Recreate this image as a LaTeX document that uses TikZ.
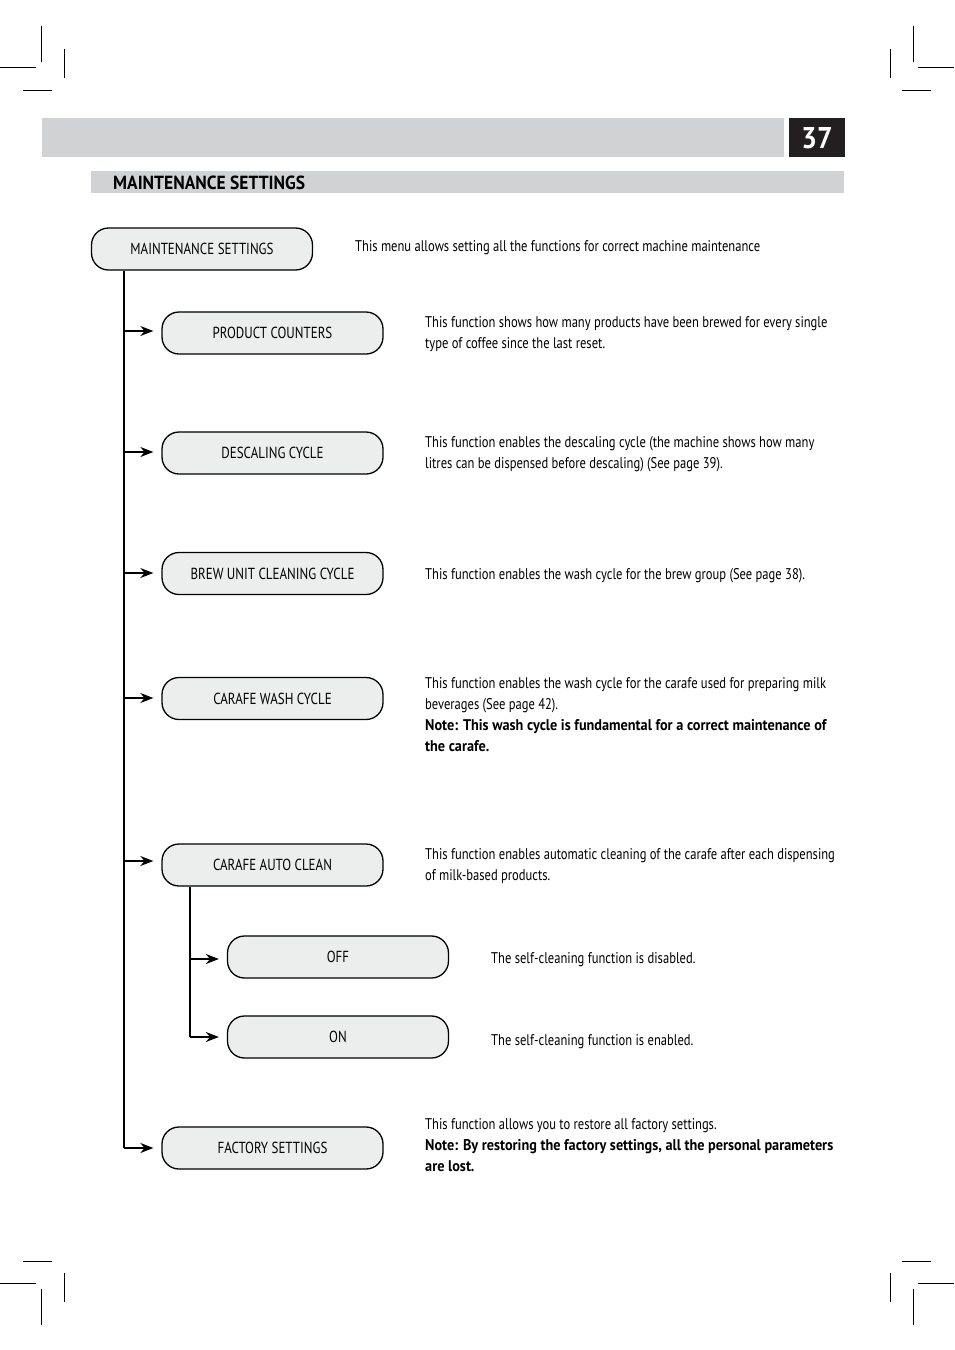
\documentclass[tikz,border=0pt]{standalone}
\usepackage{fontspec}
\setmainfont{PT Sans}[FakeStretch=0.81, BoldFeatures={FakeStretch=0.92}]
\usetikzlibrary{arrows.meta}
\definecolor{bargray}{HTML}{D1D2D4}
\definecolor{boxfill}{HTML}{ECEDED}
\definecolor{pagenum}{HTML}{231F20}
\tikzset{
  menubox/.style={draw=black, line width=1.3pt, fill=boxfill, rounded corners=17pt,
    minimum width=221pt, minimum height=42pt, inner sep=0pt,
    font=\fontsize{16}{18}\selectfont},
  desc/.style={anchor=north west, align=left, inner sep=0pt,
    font=\fontsize{15.5}{21}\selectfont},
  conn/.style={line width=1.6pt},
  arr/.style={line width=1.6pt, -{Stealth[length=13pt,width=10pt]}, shorten >=8pt},
  crop/.style={line width=0.8pt}
}
\begin{document}
\begin{tikzpicture}[x=1pt,y=-1pt]
\useasboundingbox (0,0) rectangle (954,1350);
% crop marks
\draw[crop] (41,26) -- (41,62) (0,67) -- (36,67) (64,49) -- (64,78) (23,90) -- (52,90);
\draw[crop] (913,26) -- (913,62) (954,67) -- (918,67) (890,49) -- (890,78) (931,90) -- (902,90);
\draw[crop] (41,1289) -- (41,1325) (0,1283) -- (36,1283) (64,1273) -- (64,1302) (23,1261) -- (52,1261);
\draw[crop] (913,1289) -- (913,1325) (954,1283) -- (918,1283) (890,1273) -- (890,1302) (931,1261) -- (902,1261);
% header
\fill[bargray] (42,118) rectangle (784,157);
\fill[pagenum] (789,118) rectangle (845,157);
\node[text=white, font=\fontsize{30}{30}\bfseries\selectfont, inner sep=0pt] (pnum) at (817,138) {37};
\fill[bargray] (91,171) rectangle (844,193);
\node[anchor=west, inner sep=0pt, font=\fontsize{19}{20}\bfseries\selectfont] (title) at (113,182.5) {MAINTENANCE SETTINGS};
% boxes
\node[menubox] (ms) at (202,249) {MAINTENANCE SETTINGS};
\node[menubox] (pc) at (272.5,333) {PRODUCT COUNTERS};
\node[menubox] (dc) at (272.5,453) {DESCALING CYCLE};
\node[menubox] (bu) at (272.5,573.5) {BREW UNIT CLEANING CYCLE};
\node[menubox] (cw) at (272.5,698.5) {CARAFE WASH CYCLE};
\node[menubox] (ca) at (272.5,865) {CARAFE AUTO CLEAN};
\node[menubox] (off) at (338,957) {OFF};
\node[menubox] (on) at (338,1037) {ON};
\node[menubox] (fs) at (272.5,1148) {FACTORY SETTINGS};
% connectors
\coordinate (m0) at (124,270);
\coordinate (mend) at (124,1148);
\draw[conn] (ms.south -| m0) -- (mend);
\draw[arr] (124,331) -- (pc.west |- 0,331);
\draw[arr] (124,452) -- (dc.west |- 0,452);
\draw[arr] (124,573) -- (bu.west |- 0,573);
\draw[arr] (124,698) -- (cw.west |- 0,698);
\draw[arr] (124,861) -- (ca.west |- 0,861);
\draw[arr] (mend) -- (fs.west);
\coordinate (s0) at (190,886);
\coordinate (send) at (190,1037);
\draw[conn] (ca.south -| s0) -- (send);
\draw[arr] (190,959) -- (off.west |- 0,959);
\draw[arr] (send) -- (on.west);
% descriptions
\node[desc] (d0) at (355,240) {This menu allows setting all the functions for correct machine maintenance};
\node[desc] (d1) at (425,316) {This function shows how many products have been brewed for every single\\type of coffee since the last reset.};
\node[desc] (d2) at (425,436) {This function enables the descaling cycle (the machine shows how many\\litres can be dispensed before descaling) (See page 39).};
\node[desc] (d3) at (425,568) {This function enables the wash cycle for the brew group (See page 38).};
\node[desc] (d4) at (425,677) {This function enables the wash cycle for the carafe used for preparing milk\\beverages (See page 42).\\\textbf{Note: This wash cycle is fundamental for a correct maintenance of}\\\textbf{the carafe.}};
\node[desc] (d5) at (425,848) {This function enables automatic cleaning of the carafe after each dispensing\\of milk-based products.};
\node[desc] (d6) at (491,952) {The self-cleaning function is disabled.};
\node[desc] (d7) at (491,1034) {The self-cleaning function is enabled.};
\node[desc] (d8) at (425,1118) {This function allows you to restore all factory settings.\\\textbf{Note: By restoring the factory settings, all the personal parameters}\\\textbf{are lost.}};
\end{tikzpicture}
\end{document}
